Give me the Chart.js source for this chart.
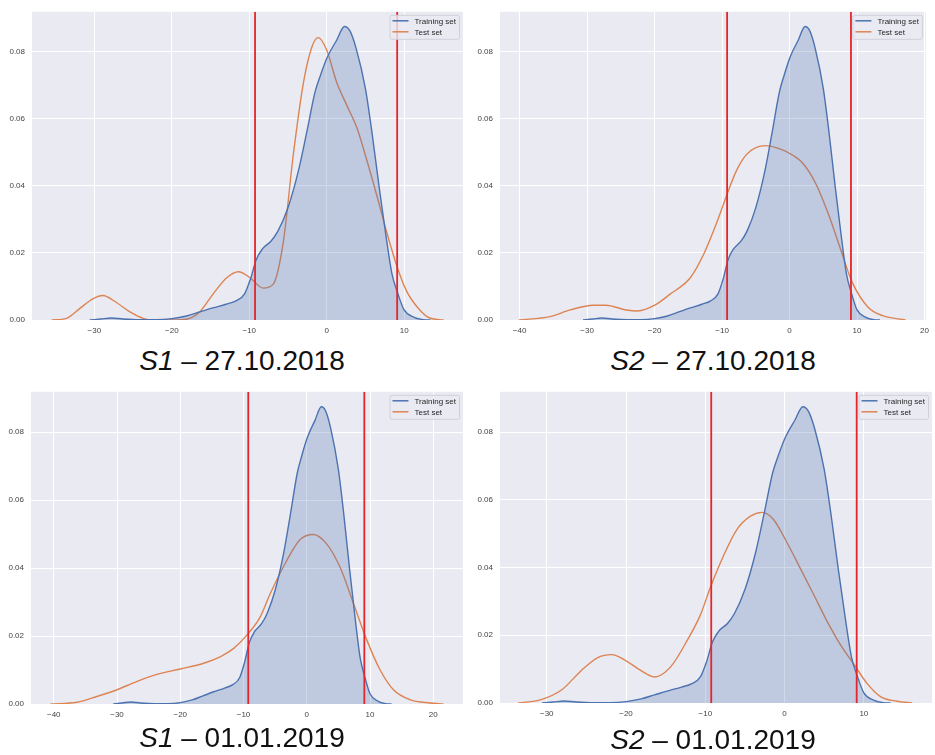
<!DOCTYPE html>
<html>
<head>
<meta charset="utf-8">
<script src="https://cdn.jsdelivr.net/npm/chart.js@4"></script>
<style>
  body { margin: 0; background: #fff; width: 935px; height: 755px; position: relative; overflow: hidden; }
  canvas { position: absolute; }
  .cap { position: absolute; width: 440px; text-align: center; font-family: "Liberation Sans", Arial, sans-serif;
         font-size: 28px; line-height: 28px; color: #111; white-space: nowrap; }
</style>
</head>
<body>
<canvas id="c1" width="467" height="340" style="left:0;top:0"></canvas>
<canvas id="c2" width="468" height="340" style="left:467px;top:0"></canvas>
<canvas id="c3" width="467" height="344" style="left:0;top:380px"></canvas>
<canvas id="c4" width="468" height="343" style="left:467px;top:380px"></canvas>
<div class="cap" style="left:22px;top:347px"><i>S1</i> – 27.10.2018</div>
<div class="cap" style="left:493px;top:347px"><i>S2</i> – 27.10.2018</div>
<div class="cap" style="left:22px;top:724px"><i>S1</i> – 01.01.2019</div>
<div class="cap" style="left:493px;top:726px"><i>S2</i> – 01.01.2019</div>
<script>
// training set density (same in all four panels)
var trainX = [-30.6, -29.2, -27.8, -26.3, -24, -22, -20, -18.1, -16.4, -14.7, -13, -11.7, -10.6, -9.8, -9.1, -8.3, -7.2, -6.3, -5.0, -3.7, -2.6, -1.5, -0.8, 0.1, 1.3, 2.3, 3.0, 3.8, 5.0, 5.9, 6.75, 7.6, 8.45, 9.1, 10.0, 11.3, 12.5, 13.4];
var trainY = [0, 0.0003, 0.0006, 0.0003, 0.0001, 0.0001, 0.0004, 0.0012, 0.0024, 0.0036, 0.0047, 0.0057, 0.0078, 0.0125, 0.018, 0.0212, 0.0235, 0.0265, 0.0335, 0.044, 0.0557, 0.068, 0.073, 0.0785, 0.0835, 0.0875, 0.0862, 0.081, 0.069, 0.055, 0.040, 0.026, 0.0135, 0.0085, 0.003, 0.0008, 0.0001, 0];

// test set densities
var testX_s1a = [-35.5, -33.6, -31.9, -30.2, -28.9, -27.2, -25.4, -23.7, -22.4, -20, -18, -16.4, -14.65, -12.9, -11.4, -9.9, -8.2, -6.9, -5.6, -4.3, -3.0, -1.9, -1.1, 0, 1.3, 2.6, 3.9, 5.2, 6.5, 7.75, 9.0, 10.3, 12.05, 13.3, 15.1];
var testY_s1a = [0, 0.0005, 0.0034, 0.0063, 0.0073, 0.0053, 0.0024, 0.0005, 0, 0, 0.0003, 0.0024, 0.0078, 0.0126, 0.0144, 0.0126, 0.0095, 0.0107, 0.0233, 0.0495, 0.0708, 0.0815, 0.0842, 0.0805, 0.0708, 0.064, 0.0573, 0.0475, 0.0369, 0.0262, 0.0165, 0.0087, 0.0029, 0.0006, 0];

var testX_s2a = [-40.1, -35.5, -32.5, -29.1, -27.2, -24.2, -22.5, -19.9, -17.7, -14.7, -12.8, -10.8, -9.4, -7.9, -6.4, -5.0, -3.5, -2.0, -0.1, 1.9, 3.8, 5.7, 7.7, 9.2, 11.6, 13.8, 17.2];
var testY_s2a = [0, 0.001, 0.003, 0.0044, 0.0044, 0.003, 0.0027, 0.0045, 0.0077, 0.0126, 0.0193, 0.029, 0.0367, 0.0444, 0.0493, 0.0514, 0.052, 0.0514, 0.0498, 0.0469, 0.041, 0.0319, 0.0203, 0.0116, 0.0039, 0.0013, 0];

var testX_s1b = [-40.5, -36.3, -33.2, -30, -26.9, -23.7, -20, -16.3, -13.7, -11.6, -9.5, -7.4, -5.8, -3.2, -1.05, 1.05, 3.2, 5.3, 7.4, 9.5, 11.6, 13.7, 16.3, 19.5, 21.6];
var testY_s1b = [0, 0.0005, 0.0022, 0.0042, 0.0066, 0.0087, 0.0103, 0.012, 0.0139, 0.0163, 0.0202, 0.0255, 0.0324, 0.0421, 0.0484, 0.0499, 0.047, 0.0401, 0.0295, 0.0188, 0.010, 0.0042, 0.0013, 0.0003, 0];

var testX_s2b = [-33.6, -30.7, -28.1, -25.6, -23.5, -21.8, -20.1, -18.2, -16.4, -14.4, -12.3, -10.6, -9.4, -7.7, -6.0, -4.3, -2.85, -1.4, 0.3, 2.0, 3.7, 5.35, 7.0, 8.7, 10.4, 12.1, 14.2, 16.1];
var testY_s2b = [0, 0.001, 0.0039, 0.0097, 0.0135, 0.0143, 0.0126, 0.0097, 0.0077, 0.0106, 0.0184, 0.0261, 0.0339, 0.0435, 0.0513, 0.0552, 0.0563, 0.0542, 0.0474, 0.0397, 0.0319, 0.0242, 0.0174, 0.0116, 0.0058, 0.0019, 0.0005, 0];

// red threshold lines
var limits = [-9.25, 9.1];
var yTicks = [0, 0.02, 0.04, 0.06, 0.08];

function pts(xs, ys) {
    return xs.map(function (x, i) { return { x: x, y: ys[i] }; });
}

var bgPlugin = {
    id: 'bg',
    beforeDraw: function (chart) {
        var a = chart.chartArea, c = chart.ctx;
        c.save();
        c.fillStyle = '#EAEAF2';
        c.fillRect(a.left, a.top, a.right - a.left, a.bottom - a.top);
        c.restore();
    }
};

// small legend box in the top right corner of the plot
var legendPlugin = {
    id: 'boxLegend',
    afterDraw: function (chart) {
        var a = chart.chartArea, c = chart.ctx;
        var items = chart.data.datasets.filter(function (d) { return d.label; });
        c.save();
        c.font = '8px "Liberation Sans", Arial, sans-serif';
        var tw = 0;
        items.forEach(function (d) { tw = Math.max(tw, c.measureText(d.label).width); });
        var w = 3 + 16 + 6 + tw + 3, h = 24;
        var x0 = a.right - 4 - w, y0 = a.top + 3;
        c.fillStyle = 'rgba(234,234,242,0.8)';
        c.strokeStyle = '#d0d0d8';
        c.lineWidth = 1;
        c.beginPath();
        c.roundRect(x0 + 0.5, y0 + 0.5, w, h, 2);
        c.fill();
        c.stroke();
        items.forEach(function (d, i) {
            var yy = y0 + 6 + i * 11;
            c.strokeStyle = d.borderColor;
            c.lineWidth = 1.5;
            c.beginPath();
            c.moveTo(x0 + 3, yy);
            c.lineTo(x0 + 19, yy);
            c.stroke();
            c.fillStyle = '#262626';
            c.textBaseline = 'middle';
            c.fillText(d.label, x0 + 25, yy + 0.5);
        });
        c.restore();
    }
};

function makeChart(id, testX, testY, xMin, xMax, yw, pad) {
    var yMax = 0.0919;
    var sets = [
        { label: 'Training set', data: pts(trainX, trainY), borderColor: '#4C72B0', backgroundColor: 'rgba(76,114,176,0.27)',
          fill: 'origin', borderWidth: 1.4, pointRadius: 0, cubicInterpolationMode: 'monotone' },
        { label: 'Test set', data: pts(testX, testY), borderColor: '#DD8452', borderWidth: 1.4, pointRadius: 0,
          fill: false, cubicInterpolationMode: 'monotone' }
    ];
    limits.forEach(function (v) {
        sets.push({ data: [{ x: v, y: 0 }, { x: v, y: yMax }], borderColor: '#E3262B', borderWidth: 1.8,
                    pointRadius: 0, fill: false, order: -1 });
    });
    return new Chart(document.getElementById(id), {
        type: 'line',
        data: { datasets: sets },
        options: {
            responsive: false,
            animation: false,
            devicePixelRatio: 1,
            layout: { padding: pad },
            plugins: { legend: { display: false }, tooltip: { enabled: false } },
            scales: {
                x: {
                    type: 'linear', min: xMin, max: xMax,
                    afterFit: function (s) { s.height = 20; },
                    border: { display: false },
                    grid: { color: '#ffffff', lineWidth: 1, drawTicks: false },
                    ticks: {
                        stepSize: 10, includeBounds: false, padding: 6, color: '#444',
                        font: { size: 8, family: '"Liberation Sans", Arial, sans-serif' },
                        maxRotation: 0,
                        callback: function (v) { return v < 0 ? '\u2212' + Math.abs(v) : String(v); }
                    }
                },
                y: {
                    min: 0, max: yMax,
                    afterFit: function (s) { s.width = yw; },
                    afterBuildTicks: function (s) { s.ticks = yTicks.map(function (v) { return { value: v }; }); },
                    border: { display: false },
                    grid: { color: '#ffffff', lineWidth: 1, drawTicks: false },
                    ticks: {
                        padding: 7, color: '#444',
                        font: { size: 8, family: '"Liberation Sans", Arial, sans-serif' },
                        callback: function (v) { return v.toFixed(2); }
                    }
                }
            }
        },
        plugins: [bgPlugin, legendPlugin]
    });
}

makeChart('c1', testX_s1a, testY_s1a, -38.05, 17.6, 32, { top: 5, right: 4, left: 0, bottom: 0 });
makeChart('c2', testX_s2a, testY_s2a, -42.9, 20.2, 33, { top: 5, right: 4, left: 0, bottom: 0 });
makeChart('c3', testX_s1b, testY_s1b, -43.6, 24.7, 31, { top: 8, right: 4, left: 0, bottom: 0 });
makeChart('c4', testX_s2b, testY_s2b, -35.9, 18.6, 33, { top: 7, right: 3, left: 0, bottom: 0 });
</script>
</body>
</html>
